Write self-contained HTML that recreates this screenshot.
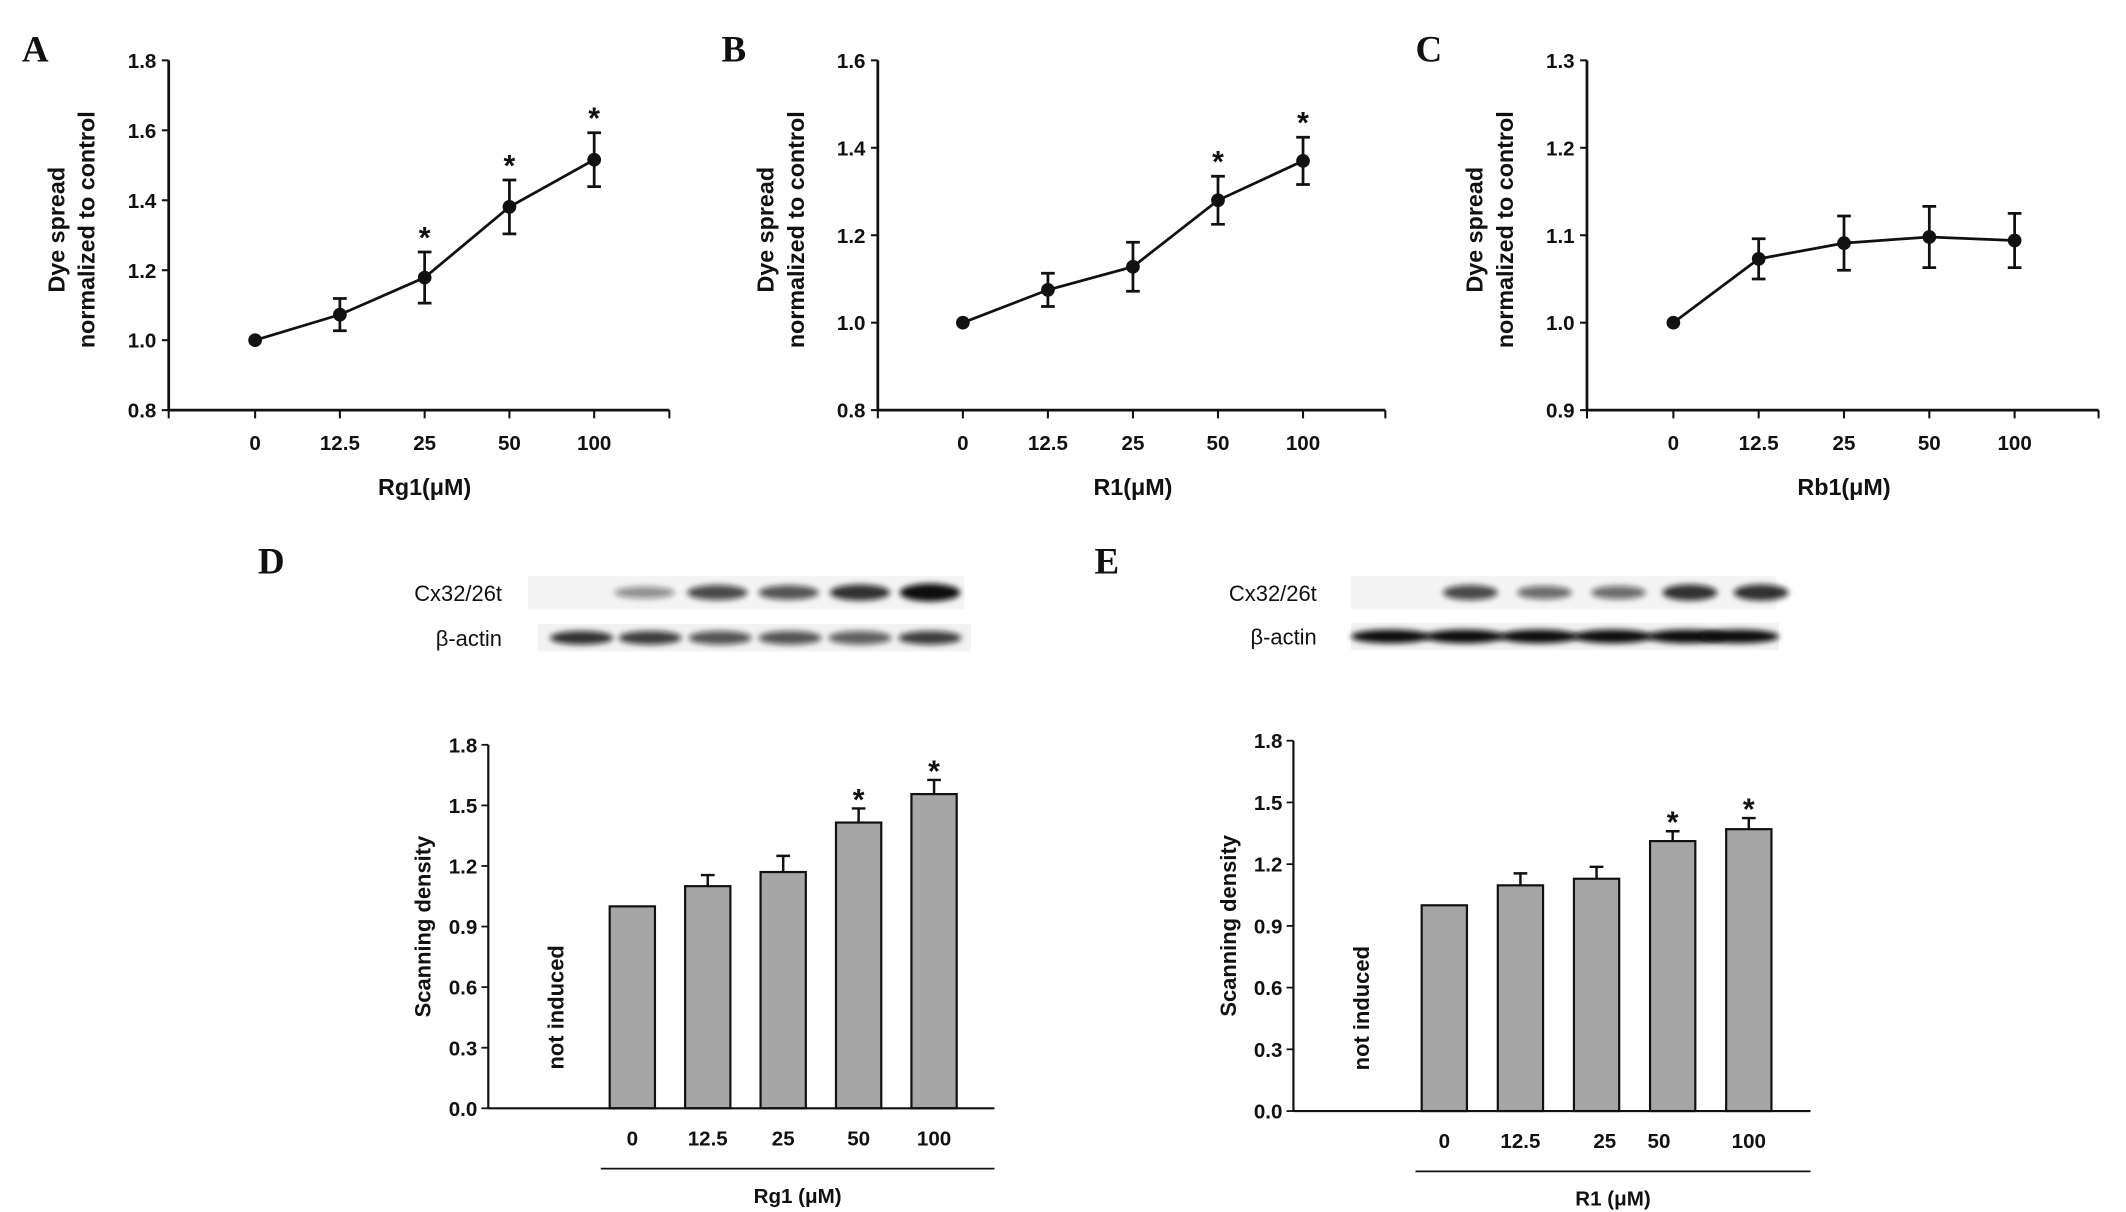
<!DOCTYPE html>
<html><head><meta charset="utf-8">
<style>
html,body{margin:0;padding:0;background:#fff;}
svg{display:block;}
text{font-family:"Liberation Sans",Arial,sans-serif;font-weight:bold;fill:#111;}
.lbl{font-family:"Liberation Serif","Times New Roman",serif;font-size:27px;font-weight:bold;}
</style></head>
<body>
<svg id="fig" xmlns="http://www.w3.org/2000/svg" width="2126" height="1212" viewBox="0 0 1550 883.6" preserveAspectRatio="none">
<defs>
<filter id="blur" x="-20%" y="-100%" width="140%" height="300%"><feGaussianBlur stdDeviation="2.2"/></filter>
</defs>
<text class="lbl" x="16" y="45">A</text>
<text class="lbl" x="526" y="45">B</text>
<text class="lbl" x="1032" y="45">C</text>
<text class="lbl" x="188" y="418">D</text>
<text class="lbl" x="798" y="418">E</text>
<g id="layer"></g>
</svg>
<script>
// ---- data ----
const doseLabels = ['0','12.5','25','50','100'];
const valsA = [1.0, 1.073, 1.179, 1.381, 1.516];
const errA  = [0, 0.046, 0.073, 0.077, 0.077];
const starA = [0, 0, 1, 1, 1];
const valsB = [1.0, 1.075, 1.128, 1.28, 1.37];
const errB  = [0, 0.038, 0.056, 0.055, 0.054];
const starB = [0, 0, 0, 1, 1];
const valsC = [1.0, 1.073, 1.091, 1.098, 1.094];
const errC  = [0, 0.023, 0.031, 0.035, 0.031];
const starC = [0, 0, 0, 0, 0];
const ticksA = [0.8, 1.0, 1.2, 1.4, 1.6, 1.8];
const ticksB = [0.8, 1.0, 1.2, 1.4, 1.6];
const ticksC = [0.9, 1.0, 1.1, 1.2, 1.3];
const valsD = [1.0, 1.10, 1.17, 1.415, 1.556];
const errD  = [0, 0.055, 0.08, 0.07, 0.07];
const starD = [0, 0, 0, 1, 1];
const valsE = [1.0, 1.097, 1.129, 1.312, 1.37];
const errE  = [0, 0.058, 0.058, 0.048, 0.054];
const starE = [0, 0, 0, 1, 1];
const ticksBar = [0.0, 0.3, 0.6, 0.9, 1.2, 1.5, 1.8];
const cxD = [0, 0.45, 0.75, 0.7, 0.85, 1.0];
const actD = [0.85, 0.8, 0.7, 0.7, 0.65, 0.8];
const cxE = [0, 0.75, 0.6, 0.6, 0.85, 0.85];
const actE = [1.0, 1.0, 1.0, 1.0, 1.0, 1.0];

const NS='http://www.w3.org/2000/svg';
const layer=document.getElementById('layer');
function mk(tag,attrs,parent){const e=document.createElementNS(NS,tag);for(const k in attrs)e.setAttribute(k,attrs[k]);(parent||layer).appendChild(e);return e;}

function lineChart(p, vals, errs, stars, ticks, xtitle, key){
  const g=mk('g',{});
  
  
  const y0=ticks[0], y1=ticks[ticks.length-1];
  const sy=v=>p.bottom-(v-y0)/(y1-y0)*(p.bottom-p.top);
  const sx=i=>p.first+i*p.step;
  mk('line',{x1:p.ax,y1:p.top,x2:p.ax,y2:p.bottom,stroke:'#111','stroke-width':2},g);
  mk('line',{x1:p.ax,y1:p.bottom,x2:p.right,y2:p.bottom,stroke:'#111','stroke-width':2},g);
  ticks.forEach(t=>{
    mk('line',{x1:p.ax-5,y1:sy(t),x2:p.ax,y2:sy(t),stroke:'#111','stroke-width':1.5},g);
    const tx=mk('text',{x:p.ax-9,y:sy(t)+5.5,'text-anchor':'end','font-size':15},g);
    tx.textContent=t.toFixed(1);
    
    
  });
  [p.ax,p.right].forEach(x=>mk('line',{x1:x,y1:p.bottom,x2:x,y2:p.bottom+6,stroke:'#111','stroke-width':1.5},g));
  doseLabels.forEach((l,i)=>{
    mk('line',{x1:sx(i),y1:p.bottom,x2:sx(i),y2:p.bottom+6,stroke:'#111','stroke-width':1.5},g);
    const tx=mk('text',{x:sx(i),y:p.bottom+29,'text-anchor':'middle','font-size':15},g);
    tx.textContent=l;
    
    
  });
  const xt=mk('text',{x:sx(2),y:p.bottom+62,'text-anchor':'middle','font-size':17},g);
  xt.textContent=xtitle;
  
  
  const yt=mk('text',{transform:`translate(${p.ax-76},${(p.top+p.bottom)/2-4}) rotate(-90)`,'text-anchor':'middle','font-size':17},g);
  
  
  const t1=mk('tspan',{x:0,dy:0},yt); t1.textContent='Dye spread';
  const t2=mk('tspan',{x:0,dy:22},yt); t2.textContent='normalized to control';
  const pts=vals.map((v,i)=>sx(i)+','+sy(v)).join(' ');
  const pl=mk('polyline',{points:pts,fill:'none',stroke:'#111','stroke-width':2},g);
  
  
  vals.forEach((v,i)=>{
    if(errs[i]>0){
      const hi=sy(v+errs[i]), lo=sy(v-errs[i]);
      const eb=mk('path',{d:`M${sx(i)},${hi}V${lo}M${sx(i)-5},${hi}H${sx(i)+5}M${sx(i)-5},${lo}H${sx(i)+5}`,stroke:'#111','stroke-width':2,fill:'none'},g);
      
      
    }
    const c=mk('circle',{cx:sx(i),cy:sy(v),r:5,fill:'#111'},g);
    
    
    if(stars[i]){
      const s=mk('text',{x:sx(i),y:sy(v+errs[i])-3,'text-anchor':'middle','font-size':22},g);
      s.textContent='*';
      
      
    }
  });
}

function barChart(p, vals, errs, stars, xtitle, key){
  const g=mk('g',{});
  
  
  const y0=ticksBar[0], y1=ticksBar[ticksBar.length-1];
  const sy=v=>p.bottom-(v-y0)/(y1-y0)*(p.bottom-p.top);
  const sx=i=>p.first+i*p.step;
  vals.forEach((v,i)=>{
    if(errs[i]>0){
      const eb=mk('path',{d:`M${sx(i)},${sy(v)}V${sy(v+errs[i])}M${sx(i)-5},${sy(v+errs[i])}H${sx(i)+5}`,stroke:'#111','stroke-width':1.8,fill:'none'},g);
      
      
    }
    const r=mk('rect',{x:sx(i)-p.bw/2,y:sy(v),width:p.bw,height:p.bottom-sy(v),fill:'#a6a6a6',stroke:'#111','stroke-width':1.6},g);
    
    
    if(stars[i]){
      const s=mk('text',{x:sx(i),y:sy(v+errs[i])+1,'text-anchor':'middle','font-size':22},g);
      s.textContent='*';
      
      
    }
    const tx=mk('text',{x:sx(i)+(p.lx?p.lx[i]:0),y:p.bottom+27,'text-anchor':'middle','font-size':15},g);
    tx.textContent=doseLabels[i];
    
    
  });
  mk('line',{x1:p.ax,y1:p.top,x2:p.ax,y2:p.bottom,stroke:'#111','stroke-width':1.6},g);
  mk('line',{x1:p.ax,y1:p.bottom,x2:p.right,y2:p.bottom,stroke:'#111','stroke-width':1.6},g);
  ticksBar.forEach(t=>{
    mk('line',{x1:p.ax-5,y1:sy(t),x2:p.ax,y2:sy(t),stroke:'#111','stroke-width':1.3},g);
    const tx=mk('text',{x:p.ax-8,y:sy(t)+5.5,'text-anchor':'end','font-size':15},g);
    tx.textContent=t.toFixed(1);
    
    
  });
  mk('line',{x1:p.ulx1,y1:p.bottom+44,x2:p.right,y2:p.bottom+44,stroke:'#111','stroke-width':1.3},g);
  const xt=mk('text',{x:(p.ulx1+p.right)/2,y:p.bottom+69,'text-anchor':'middle','font-size':15},g);
  xt.textContent=xtitle;
  
  
  const yt=mk('text',{transform:`translate(${p.ax-42},${(p.top+p.bottom)/2}) rotate(-90)`,'text-anchor':'middle','font-size':16},g);
  yt.textContent='Scanning density';
  
  
  const ni=mk('text',{transform:`translate(${p.ax+55},${sy(0.5)}) rotate(-90)`,'text-anchor':'middle','font-size':16},g);
  ni.textContent='not induced';
  
  
}

function blot(b, cx, act, key){
  const g=mk('g',{});
  
  
  mk('rect',{x:b.x1,y:b.y1-12,width:b.w1,height:24,fill:'#f4f4f4'},g);
  mk('rect',{x:b.x2,y:b.y2-10,width:b.w2,height:20,fill:'#f2f2f2'},g);
  b.lanes.forEach((lx,i)=>{
    if(cx[i]>0){
      const e=mk('ellipse',{cx:lx,cy:b.y1,rx:b.bw/2,ry:2.5+cx[i]*4,fill:'#111','fill-opacity':cx[i],filter:'url(#blur)'},g);
      
      
    }
    const a=mk('ellipse',{cx:b.lanes2[i],cy:b.y2,rx:b.bw2/2,ry:5,fill:'#111','fill-opacity':act[i],filter:'url(#blur)'},g);
    
    
  });
  const l1=mk('text',{x:b.lx,y:b.y1+6,'text-anchor':'end','font-size':16},g);
  l1.textContent='Cx32/26t'; l1.style.fontWeight='normal';
  
  
  const l2=mk('text',{x:b.lx,y:b.y2+6,'text-anchor':'end','font-size':16},g);
  l2.textContent='β-actin'; l2.style.fontWeight='normal';
  
  
}

lineChart({ax:123,top:44,bottom:299,right:488,first:186,step:61.8}, valsA, errA, starA, ticksA, 'Rg1(μM)', 'panel-a');
lineChart({ax:640,top:44,bottom:299,right:1010,first:702,step:62}, valsB, errB, starB, ticksB, 'R1(μM)', 'panel-b');
lineChart({ax:1157,top:44,bottom:299,right:1530,first:1220,step:62.2}, valsC, errC, starC, ticksC, 'Rb1(μM)', 'panel-c');
barChart({ax:356,top:543,bottom:808,right:725,first:461,step:55,bw:33,ulx1:438,lx:[0,0,0,0,0]}, valsD, errD, starD, 'Rg1 (μM)', 'panel-d');
barChart({ax:943,top:540,bottom:810,right:1320,first:1053,step:55.5,bw:33,ulx1:1032,lx:[0,0,6,-10,0]}, valsE, errE, starE, 'R1 (μM)', 'panel-e');
blot({x1:385,w1:318,y1:432,x2:392,w2:316,y2:465,lx:366,bw:44,bw2:46,
      lanes:[420,470,523,575,627,678],lanes2:[424,474,525,576,627,678]}, cxD, actD, 'panel-d');
blot({x1:985,w1:310,y1:432,x2:985,w2:312,y2:464,lx:960,bw:40,bw2:58,
      lanes:[1020,1072,1126,1180,1232,1284],lanes2:[1014,1068,1122,1176,1230,1268]}, cxE, actE, 'panel-e');
</script>
</body></html>
